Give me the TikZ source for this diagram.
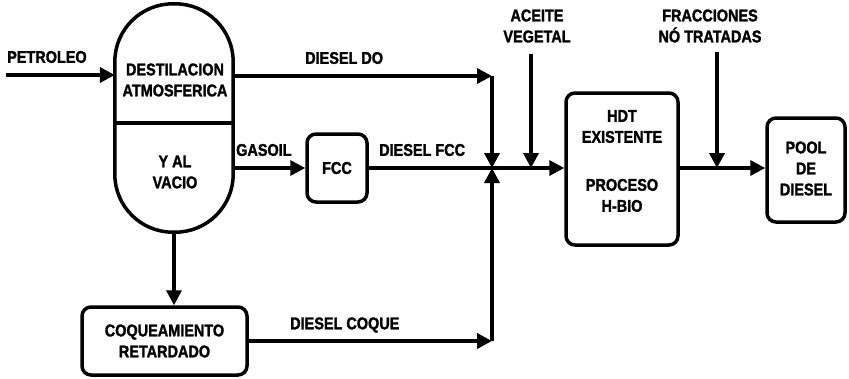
\documentclass[tikz,border=0pt]{standalone}
\usepackage{fontspec}
\setmainfont{Liberation Sans}[FakeStretch=0.85, BoldFeatures={FakeBold=1.6}]
\usetikzlibrary{arrows.meta}
\begin{document}
\begin{tikzpicture}[x=1pt,y=-1pt,
  lbl/.style={font=\bfseries\fontsize{17}{21}\selectfont, align=center, inner sep=0pt},
  unit/.style={draw, line width=3.5pt, rounded corners=9pt, inner sep=0pt},
  flow/.style={line width=3.5pt, -{Triangle[length=15pt,width=15pt]}},
  pipe/.style={line width=3.5pt}]
\useasboundingbox (0,0) rectangle (849,378);

% column
\node[minimum width=118pt, minimum height=228pt, inner sep=0pt] (col) at (174,118) {};
\draw[line width=3.5pt, rounded corners=58pt] (col.north west) rectangle (col.south east);
\draw[line width=3.5pt] (col.west |- 0,123) -- (col.east |- 0,123);
\node[lbl] (t1) at (175,80) {DESTILACION\\ATMOSFERICA};
\node[lbl] (t2) at (175,172) {Y AL\\VACIO};

% units
\node[unit, minimum width=60pt, minimum height=68pt] (fcc) at (337,168) {};
\node[lbl] (fcct) at (fcc) {FCC};
\node[unit, minimum width=112pt, minimum height=152pt] (hdt) at (622,169) {};
\node[lbl] (hdtt) at (622,161) {HDT\\EXISTENTE\\[27pt]PROCESO\\H-BIO};
\node[unit, minimum width=78pt, minimum height=104pt] (pool) at (806,170) {};
\node[lbl] (poolt) at (806,168.5) {POOL\\DE\\DIESEL};
\node[unit, minimum width=165pt, minimum height=68pt] (coq) at (164.5,341) {};
\node[lbl] (coqt) at (coq) {COQUEAMIENTO\\RETARDADO};

% junctions / free ends
\coordinate (j) at (492,168);
\coordinate (doC) at (492,76);
\coordinate (coqC) at (492,341);
\coordinate (pin) at (6,75);
\coordinate (av) at (531,54);
\coordinate (fr) at (717,52);

% connectors
\draw[flow] (pin) -- (pin -| col.west);
\draw[flow] (col.east |- doC) -- (doC);
\draw[flow] (doC) -- (j);
\draw[flow] (col.east |- fcc.west) -- (fcc.west);
\draw[pipe] (fcc.east |- j) -- (j);
\draw[flow] (j) -- (j -| hdt.west);
\draw[flow] (col.south) -- (col.south |- coq.north);
\draw[flow] (coq.east |- coqC) -- (coqC);
\draw[flow] (coqC) -- (j);
\draw[flow] (av) -- (av |- j);
\draw[flow] (hdt.east |- j) -- (pool.west |- j);
\draw[flow] (fr) -- (fr |- j);

% labels
\node[lbl, anchor=west] (lp) at (7,57) {PETROLEO};
\node[lbl, anchor=west] (ldo) at (305,58) {DIESEL DO};
\node[lbl, anchor=west] (lgo) at (236,150) {GASOIL};
\node[lbl, anchor=west] (lfcc) at (379,150) {DIESEL FCC};
\node[lbl] (lav) at (537,26) {ACEITE\\VEGETAL};
\node[lbl] (lfr) at (710,26) {FRACCIONES\\NÓ TRATADAS};
\node[lbl, anchor=west] (lcq) at (290,325) {DIESEL COQUE};
\end{tikzpicture}
\end{document}
